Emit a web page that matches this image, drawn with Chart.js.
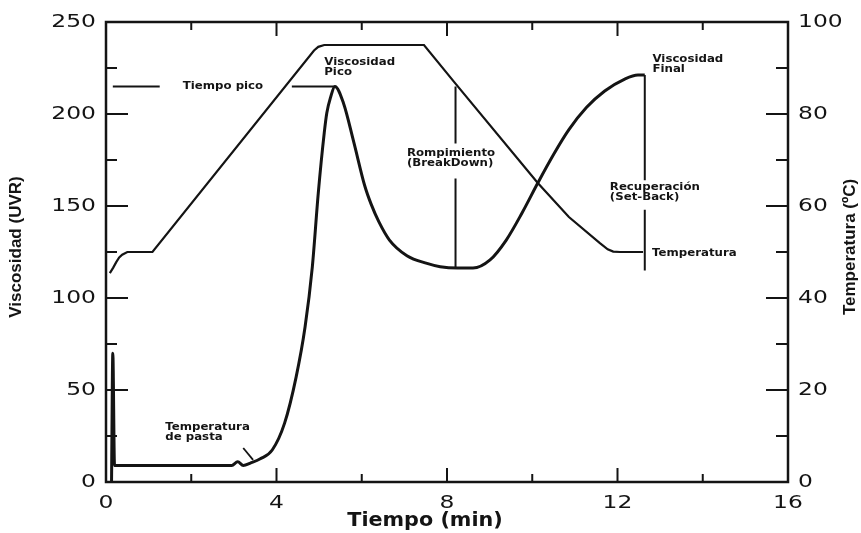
<!DOCTYPE html>
<html>
<head>
<meta charset="utf-8">
<script src="https://cdn.jsdelivr.net/npm/chart.js@4"></script>
<style>
  html, body { margin: 0; padding: 0; background: #fff; }
</style>
</head>
<body>
<canvas id="canvas" width="861" height="533"></canvas>
<script>
"use strict"

// Curva de viscosidad (UVR) frente al tiempo (min)
const tiempoVisc = [0.13, 0.16, 0.2, 1.2, 2.3, 2.95, 3.09, 3.22, 3.39, 3.62, 3.9, 4.19, 4.46, 4.67, 4.84,
                    4.98, 5.12, 5.18, 5.27, 5.37, 5.57, 5.81, 6.07, 6.22, 6.4, 6.65, 7.06, 7.53, 7.84, 8.25,
                    8.61, 9.01, 9.39, 9.76, 10.13, 10.5, 10.86, 11.27, 11.7, 12.17, 12.48, 12.64];
const viscosidad = [0, 70, 9, 9, 9, 9, 11, 9, 10.3, 12.6, 17.4, 32, 57, 84.2, 116.8,
                    157, 189.7, 200.5, 209.2, 215, 206, 185, 161, 151, 141.5, 131.5, 123, 118.8, 117, 116.3,
                    116.3, 120.7, 131.5, 146.2, 162.5, 178, 191.5, 203.5, 212.5, 219, 221.2, 221.2];

// Perfil de temperatura (ºC)
const tiempoTemp = [0.09, 0.17, 0.24, 0.31, 0.38, 0.5, 1.09, 4.88, 4.98, 5.12, 7.46, 8.19, 10.13, 10.86,
                    11.58, 11.77, 11.9, 12.06, 12.6];
const temperatura = [45.4, 46.6, 47.8, 48.8, 49.4, 50, 50, 93.8, 94.6, 95, 95, 86.7, 65, 57.6,
                     52, 50.6, 50.1, 50, 50];

// Puntos de referencia de la curva
const picoVisc = 215, tPico = 5.37;
const minVisc = 116.3, tRompe = 8.2;
const finalVisc = 221.2, tFinal = 12.64;
const tPasta = [3.22, 3.45], vPasta = [18.5, 12];

const ticksX = [0, 4, 8, 12, 16];
const ticksVisc = [0, 50, 100, 150, 200, 250];
const ticksTemp = [0, 20, 40, 60, 80, 100];

const tinta = '#141414';

function puntos(xs, ys) {
    return xs.map((x, i) => ({x: x, y: ys[i]}));
}

// texto ensanchado en horizontal (alineado según ctx.textAlign)
function texto(ctx, s, x, y, ancho) {
    ctx.save();
    ctx.translate(x, y);
    ctx.scale(ancho, 1);
    ctx.fillText(s, 0, 0);
    ctx.restore();
}

// rayitas, marco, etiquetas de ejes, títulos y notas de texto
const adornos = {
    id: 'adornos',
    afterDraw(chart) {
        const {ctx, chartArea: a, scales: {x, y, y1}} = chart;
        ctx.save();
        ctx.strokeStyle = tinta;
        ctx.lineWidth = 2.5;
        ctx.strokeRect(a.left, a.top, a.right - a.left, a.bottom - a.top);

        ctx.lineWidth = 2;
        ctx.beginPath();
        for (let t = 2; t < 16; t += 2) {
            const px = x.getPixelForValue(t);
            const l = t % 4 === 0 ? 14 : 8;
            ctx.moveTo(px, a.bottom); ctx.lineTo(px, a.bottom - l);
            ctx.moveTo(px, a.top); ctx.lineTo(px, a.top + l);
        }
        for (let v = 25; v < 250; v += 25) {
            const py = y.getPixelForValue(v);
            ctx.moveTo(a.left, py); ctx.lineTo(a.left + (v % 50 === 0 ? 22 : 11), py);
        }
        for (let c = 10; c < 100; c += 10) {
            const py = y1.getPixelForValue(c);
            ctx.moveTo(a.right, py); ctx.lineTo(a.right - (c % 20 === 0 ? 22 : 12), py);
        }
        ctx.stroke();

        ctx.fillStyle = tinta;
        ctx.textBaseline = 'middle';

        // números de los ejes
        ctx.font = '18px "DejaVu Sans"';
        ctx.textAlign = 'center';
        ticksX.forEach(v => texto(ctx, String(v), x.getPixelForValue(v), 503, 1.3));
        ctx.textAlign = 'right';
        ticksVisc.forEach(v => texto(ctx, String(v), a.left - 10, y.getPixelForValue(v), 1.3));
        ctx.textAlign = 'left';
        ticksTemp.forEach(v => texto(ctx, String(v), a.right + 10, y1.getPixelForValue(v), 1.3));

        ctx.font = 'bold 11px "DejaVu Sans"';
        const notas = [
            {t: 1.80, v: 215.2, txt: ['Tiempo pico']},
            {t: 5.12, v: 228.3, txt: ['Viscosidad', 'Pico']},
            {t: 7.06, v: 178.8, txt: ['Rompimiento', '(BreakDown)']},
            {t: 12.82, v: 229.9, txt: ['Viscosidad', 'Final']},
            {t: 11.82, v: 160.3, txt: ['Recuperación', '(Set-Back)']},
            {t: 12.81, v: 124.5, txt: ['Temperatura']},
            {t: 1.39, v: 29.9, txt: ['Temperatura', 'de pasta']}
        ];
        notas.forEach(n => {
            const px = x.getPixelForValue(n.t);
            const py = y.getPixelForValue(n.v);
            n.txt.forEach((s, i) => texto(ctx, s, px, py + i * 10.5, 1.07));
        });

        ctx.textAlign = 'center';
        ctx.font = 'bold 19px "DejaVu Sans"';
        texto(ctx, 'Tiempo (min)', 425, 521, 1.09);

        ctx.font = 'bold 17px "Liberation Sans Narrow", "Liberation Sans"';
        ctx.save();
        ctx.translate(16, 247);
        ctx.rotate(-Math.PI / 2);
        ctx.fillText('Viscosidad (UVR)', 0, 0);
        ctx.restore();
        ctx.save();
        ctx.translate(850, 247);
        ctx.rotate(-Math.PI / 2);
        ctx.fillText('Temperatura (ºC)', 0, 0);
        ctx.restore();
        ctx.restore();
    }
};

function creaGrafico() {
    let ctx = document.getElementById('canvas').getContext('2d');
    let linea = (data, ancho, eje, suave) => ({
        data: data, yAxisID: eje, borderColor: tinta, borderWidth: ancho,
        pointRadius: 0, fill: false, spanGaps: false,
        cubicInterpolationMode: suave ? 'monotone' : 'default', tension: 0
    });
    let eje = (min, max, valores, ajuste) => ({
        min: min, max: max,
        afterBuildTicks: s => { s.ticks = valores.map(v => ({value: v})); },
        afterFit: ajuste,
        ticks: {display: false},
        grid: {display: false, drawTicks: false},
        border: {display: false}
    });
    let myChart = new Chart(ctx, {
        type: 'line',
        data: {
            datasets: [
                linea(puntos(tiempoVisc, viscosidad), 3, 'y', true),
                linea(puntos(tiempoTemp, temperatura), 2.2, 'y1', false),
                // tiempo pico
                linea([{x: 0.16, y: picoVisc}, {x: 1.26, y: picoVisc}, {x: 2, y: null},
                       {x: 4.36, y: picoVisc}, {x: tPico, y: picoVisc}], 2, 'y'),
                // rompimiento
                linea([{x: tRompe, y: picoVisc}, {x: tRompe, y: 184}, {x: tRompe, y: null},
                       {x: tRompe, y: 165}, {x: tRompe, y: minVisc}], 2, 'y'),
                // recuperación
                linea([{x: tFinal, y: finalVisc}, {x: tFinal, y: 164}, {x: tFinal, y: null},
                       {x: tFinal, y: 148}, {x: tFinal, y: 115}], 2, 'y'),
                // temperatura de pasta
                linea(puntos(tPasta, vPasta), 1.8, 'y')
            ]
        },
        options: {
            responsive: false,
            animation: false,
            layout: {padding: {top: 22, left: 0, right: 0, bottom: 0}},
            plugins: {legend: {display: false}, tooltip: {enabled: false}},
            scales: {
                x: Object.assign({type: 'linear'}, eje(0, 16, ticksX, s => { s.height = 51; })),
                y: Object.assign({position: 'left'}, eje(0, 250, ticksVisc, s => { s.width = 106; })),
                y1: Object.assign({position: 'right'}, eje(0, 100, ticksTemp, s => { s.width = 73; }))
            }
        },
        plugins: [adornos]
    });
}

creaGrafico();
</script>
</body>
</html>
